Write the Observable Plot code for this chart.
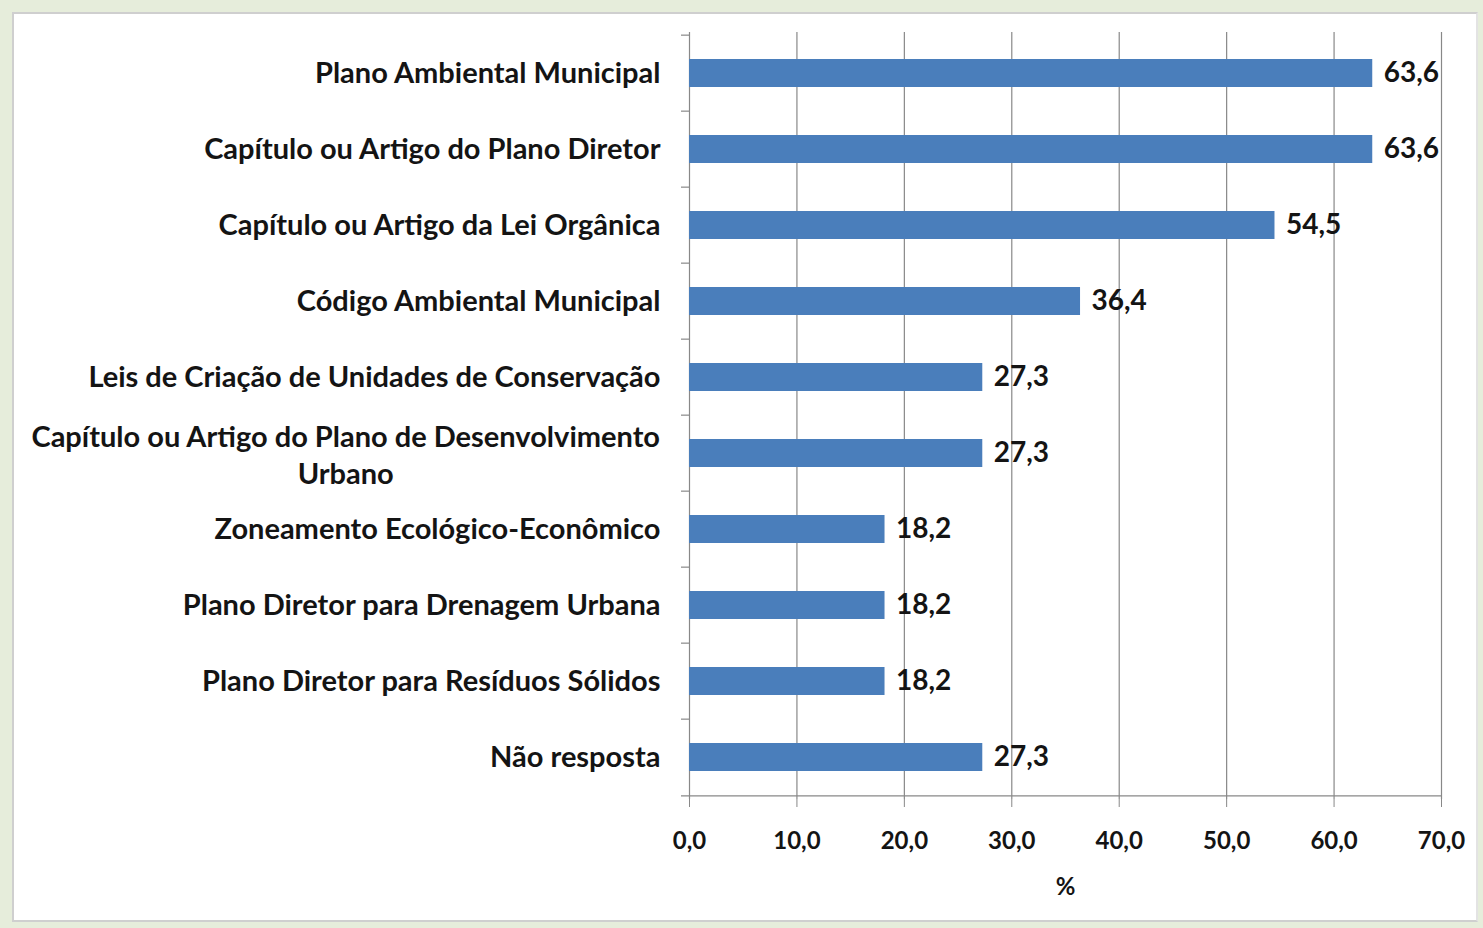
<!DOCTYPE html>
<html>
<head>
<meta charset="utf-8">
<script src="https://cdn.jsdelivr.net/npm/d3@7"></script>
<script src="https://cdn.jsdelivr.net/npm/@observablehq/plot@0.6"></script>
<style>
  html, body { margin: 0; padding: 0; background: #e6eddb; overflow: hidden; width: 1483px; height: 928px; }
  #panel { position: absolute; left: 12px; top: 12px; width: 1466px; height: 910px;
           background: #fff; border: 2px solid #cfcfcf; border-right-color: #e3e3e3; box-sizing: border-box; }
  #chart { position: absolute; left: 0; top: 0; width: 1483px; height: 928px; }
  #chart svg { display: block; max-width: none; }
</style>
</head>
<body>
<div id="panel"></div>
<div id="chart"></div>
<script>
const categories = [
  "Plano Ambiental Municipal",
  "Capítulo ou Artigo do Plano Diretor",
  "Capítulo ou Artigo da Lei Orgânica",
  "Código Ambiental Municipal",
  "Leis de Criação de Unidades de Conservação",
  "Capítulo ou Artigo do Plano de Desenvolvimento\nUrbano",
  "Zoneamento Ecológico-Econômico",
  "Plano Diretor para Drenagem Urbana",
  "Plano Diretor para Resíduos Sólidos",
  "Não resposta"
];
const values = [63.6, 63.6, 54.5, 36.4, 27.3, 27.3, 18.2, 18.2, 18.2, 27.3];
const xTicks = [0, 10, 20, 30, 40, 50, 60, 70];
const xLabel = "%";

const data = categories.map((c, i) => ({category: c, value: values[i]}));
const fmt = v => v.toFixed(1).replace(".", ",");

const FONT = "Lato, 'Open Sans', sans-serif";
const labelSize = 29;
const valueSize = 28;
const tickSize = 24;
const W = 1483, H = 928;
const mL = 689, mR = 42, mT = 32, mB = 129;
const step = (H - mT - mB) / categories.length;
const gap = 29;

// measure the widest line of the wrapped label to center it under its first line
const ctx = document.createElement("canvas").getContext("2d");
ctx.font = `bold ${labelSize}px Lato`;
const single = data.filter(d => !d.category.includes("\n"));
const multi = data.filter(d => d.category.includes("\n"));
const multiWidth = multi.length ? Math.max(...multi[0].category.split("\n").map(s => ctx.measureText(s).width)) : 0;

const grid = "#888888";
const plot = Plot.plot({
  width: W,
  height: H,
  marginLeft: mL,
  marginRight: mR,
  marginTop: mT,
  marginBottom: mB,
  style: {fontFamily: FONT, fontWeight: "bold", color: "#141414", background: "transparent", maxWidth: "none"},
  x: {domain: [0, 70], ticks: xTicks, tickFormat: fmt},
  y: {domain: categories, paddingInner: 0.63, paddingOuter: 0.315, axis: null},
  marks: [
    Plot.ruleX(xTicks.filter(t => t > 0), {stroke: grid, strokeWidth: 1.2}),
    Plot.ruleX([0], {stroke: grid, strokeWidth: 1.2}),
    Plot.ruleY(categories, {y: d => d, x1: 0, x2: 0, insetLeft: -8, dy: -step / 2, stroke: grid, strokeWidth: 1.2}),
    Plot.ruleY(categories.slice(-1), {y: d => d, x1: 0, x2: 70, insetLeft: -8, dy: step / 2, stroke: grid, strokeWidth: 1.2}),
    Plot.barX(data, {y: "category", x: "value", fill: "#4a7ebb"}),
    Plot.text(data, {y: "category", x: "value", text: d => fmt(d.value), textAnchor: "start", dx: 11,
      fontSize: valueSize, fontWeight: "bold", fill: "#141414"}),
    Plot.text(single, {y: "category", text: "category", frameAnchor: "left", textAnchor: "end", dx: -gap,
      fontSize: labelSize, fontWeight: "bold", fill: "#141414"}),
    Plot.text(multi, {y: "category", text: "category", frameAnchor: "left", textAnchor: "middle", dx: -gap - multiWidth / 2,
      lineHeight: 1.3, fontSize: labelSize, fontWeight: "bold", fill: "#141414"}),
    Plot.axisX({ticks: xTicks, tickFormat: fmt, tickSize: 8, tickPadding: 24, fontSize: tickSize, stroke: grid, fill: "#141414",
      label: xLabel, labelAnchor: "center", labelArrow: "none", labelOffset: 95})
  ]
});
document.getElementById("chart").appendChild(plot);
</script>
</body>
</html>
